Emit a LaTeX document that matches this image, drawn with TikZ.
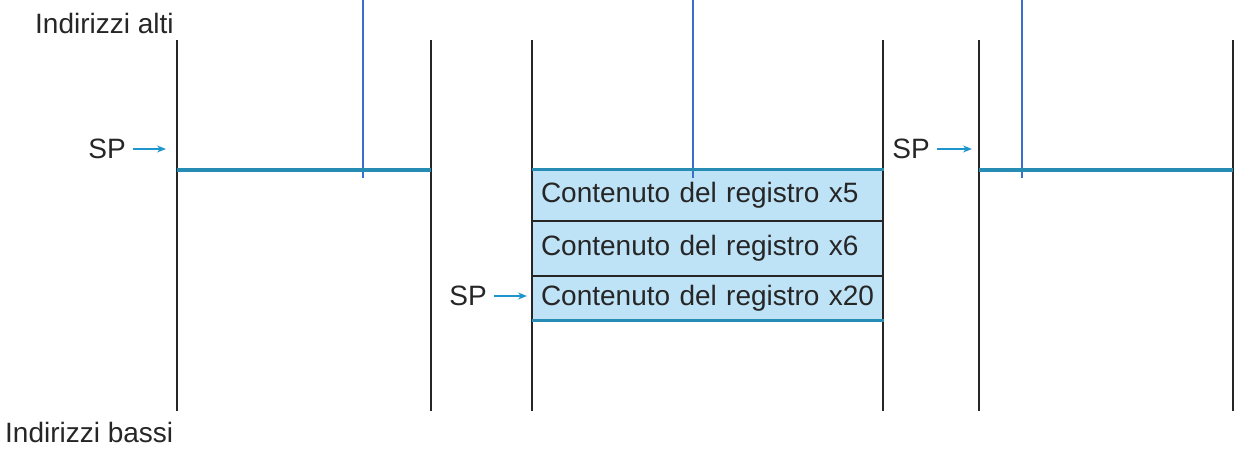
\documentclass[tikz,border=0pt]{standalone}
\usepackage{fontspec}
\setmainfont{Liberation Sans}
\usetikzlibrary{arrows.meta, positioning}
\definecolor{stackline}{RGB}{38,140,180}
\definecolor{stackfill}{RGB}{190,226,246}
\definecolor{ptrblue}{RGB}{60,110,210}
\definecolor{arrowblue}{RGB}{30,150,205}
\tikzset{
    wall/.style={draw=black!85, line width=1.1pt},
    topline/.style={draw=stackline, line width=3.5pt},
    ptrline/.style={draw=ptrblue, line width=1.3pt},
    lbl/.style={font=\fontsize{28}{32}\selectfont, inner sep=0pt, text=black!85},
    cell/.style={draw=black!85, line width=1pt, fill=stackfill, minimum width=351pt, inner xsep=9pt, inner ysep=0pt, text width=333pt, align=left, font=\fontsize{28}{32}\selectfont, text=black!85},
    sparr/.style={-{Stealth[length=9pt, width=7pt]}, draw=arrowblue, line width=1.3pt}
}

\begin{document}
\begin{tikzpicture}[x=1pt, y=-1pt]
        \useasboundingbox (0,0) rectangle (1251,452);

        % address labels
        \node[lbl, anchor=west] (alti) at (35,23) {Indirizzi alti};
        \node[lbl, anchor=west] (bassi) at (5,432) {Indirizzi bassi};

        % stack before the call
        \coordinate (a1) at (177,40);  \coordinate (a2) at (177,411);
        \coordinate (b1) at (431,40);  \coordinate (b2) at (431,411);
        \draw[wall] (a1) -- (a2);
        \draw[wall] (b1) -- (b2);
        \coordinate (p1) at (363,0);   \coordinate (q1) at (363,178);
        \draw[ptrline] (p1) -- (q1);
        \coordinate (t1) at (177,170); \coordinate (u1) at (431,170);
        \draw[topline] (t1) -- (u1);
        \node[lbl, anchor=east] (sp1) at (126,149) {SP};
        \coordinate (sp1t) at (166,149);
        \draw[sparr] ([xshift=7pt]sp1.east) -- (sp1t);

        % stack during the call
        \node[cell, minimum height=50pt] (r5) at (707.5,195) {\mbox{Contenuto del registro x5}};
        \node[cell, minimum height=54pt, below=0pt of r5] (r6) {\mbox{Contenuto del registro x6}};
        \node[cell, minimum height=44pt, below=0pt of r6] (r20) {\mbox{Contenuto del registro x20}};
        \coordinate (c1) at (532,40);  \coordinate (c2) at (532,411);
        \coordinate (d1) at (883,40);  \coordinate (d2) at (883,411);
        \draw[wall] (c1) -- (c2);
        \draw[wall] (d1) -- (d2);
        \coordinate (p2) at (693,0);   \coordinate (q2) at (693,178);
        \draw[ptrline] (p2) -- (q2);
        \draw[topline] (r5.north west) -- (r5.north east);
        \draw[topline] (r20.south west) -- (r20.south east);
        \node[lbl, anchor=east] (sp2) at (487,296) {SP};
        \coordinate (sp2t) at (527,296);
        \draw[sparr] ([xshift=7pt]sp2.east) -- (sp2t);

        % stack after the return
        \coordinate (e1) at (979,40);  \coordinate (e2) at (979,411);
        \coordinate (f1) at (1233,40); \coordinate (f2) at (1233,411);
        \draw[wall] (e1) -- (e2);
        \draw[wall] (f1) -- (f2);
        \coordinate (p3) at (1022,0);  \coordinate (q3) at (1022,178);
        \draw[ptrline] (p3) -- (q3);
        \coordinate (t3) at (979,170); \coordinate (u3) at (1233,170);
        \draw[topline] (t3) -- (u3);
        \node[lbl, anchor=east] (sp3) at (930,149) {SP};
        \coordinate (sp3t) at (972,149);
        \draw[sparr] ([xshift=7pt]sp3.east) -- (sp3t);
\end{tikzpicture}
\end{document}
